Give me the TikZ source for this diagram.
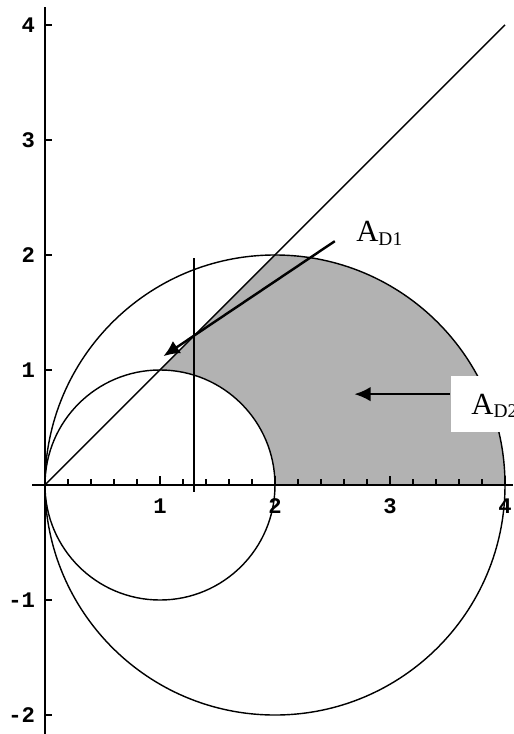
\documentclass[tikz,border=0pt]{standalone}
\usepackage{fontspec}
\setmainfont{Liberation Serif}
\setmonofont{Liberation Mono}
\usetikzlibrary{arrows.meta}
\tikzset{
  axisline/.style={line width=0.55pt, black},
  curve/.style={line width=0.35pt, black},
  cutline/.style={line width=0.5pt, black},
  region/.style={fill=black!30, draw=none},
  ticklab/.style={inner sep=0pt, font=\ttfamily\bfseries\fontsize{5.5}{6.5}\selectfont},
  callout/.style={line width=0.6pt, -{Latex[length=4pt,width=3.6pt]}},
  areatag/.style={inner sep=0pt, font=\fontsize{7.6}{9}\selectfont},
}
\newcommand{\subtag}[1]{\raisebox{-0.9pt}{\fontsize{4.8}{5}\selectfont #1}}

\begin{document}
\begin{tikzpicture}
\useasboundingbox (-0.391,-2.165) rectangle (4.078,4.217);
\fill[region] (1,1) -- (2,2) arc[start angle=90, end angle=0, radius=2]
  -- (2,0) arc[start angle=0, end angle=90, radius=1] -- cycle;
\draw[curve] (1,0) circle (1);
\draw[curve] (2,0) circle (2);
\draw[curve] (0,0) -- (4,4);
\draw[axisline] (-0.11,0) -- (4.07,0);
\draw[axisline] (0,-2.2) -- (0,4.16);
\foreach \i in {1,...,20}
  \draw[curve] (0.2*\i,0) -- (0.2*\i,0.05);
\foreach \i in {1,...,4} {
  \draw[curve] (\i,0) -- (\i,0.08);
  \node[ticklab, anchor=north] (x\i) at (\i,-0.11) {\i};
}
\foreach \j in {-2,-1,1,2,3,4} {
  \draw[curve] (0,\j) -- (0.06,\j);
  \node[ticklab, anchor=east] (y\j) at (-0.08,\j) {\j};
}
\draw[cutline] (1.3,-0.06) -- (1.3,1.97);

\node[areatag, anchor=base west] (ad1) at (2.70,2.113) {A\subtag{D1}};
\coordinate (d1tail) at (2.52,2.12);
\coordinate (d1tip) at (1.03,1.12);
\draw[callout] (d1tail) -- (d1tip);

\node[areatag, fill=white, anchor=south west, inner xsep=0.18cm, inner ysep=0.157cm,
  text depth=0pt] (ad2) at (3.52,0.452) {A\subtag{D2}};
\coordinate (d2tip) at (2.69,0.79);
\draw[callout] (ad2.west |- d2tip) -- (d2tip);
\end{tikzpicture}
\end{document}
